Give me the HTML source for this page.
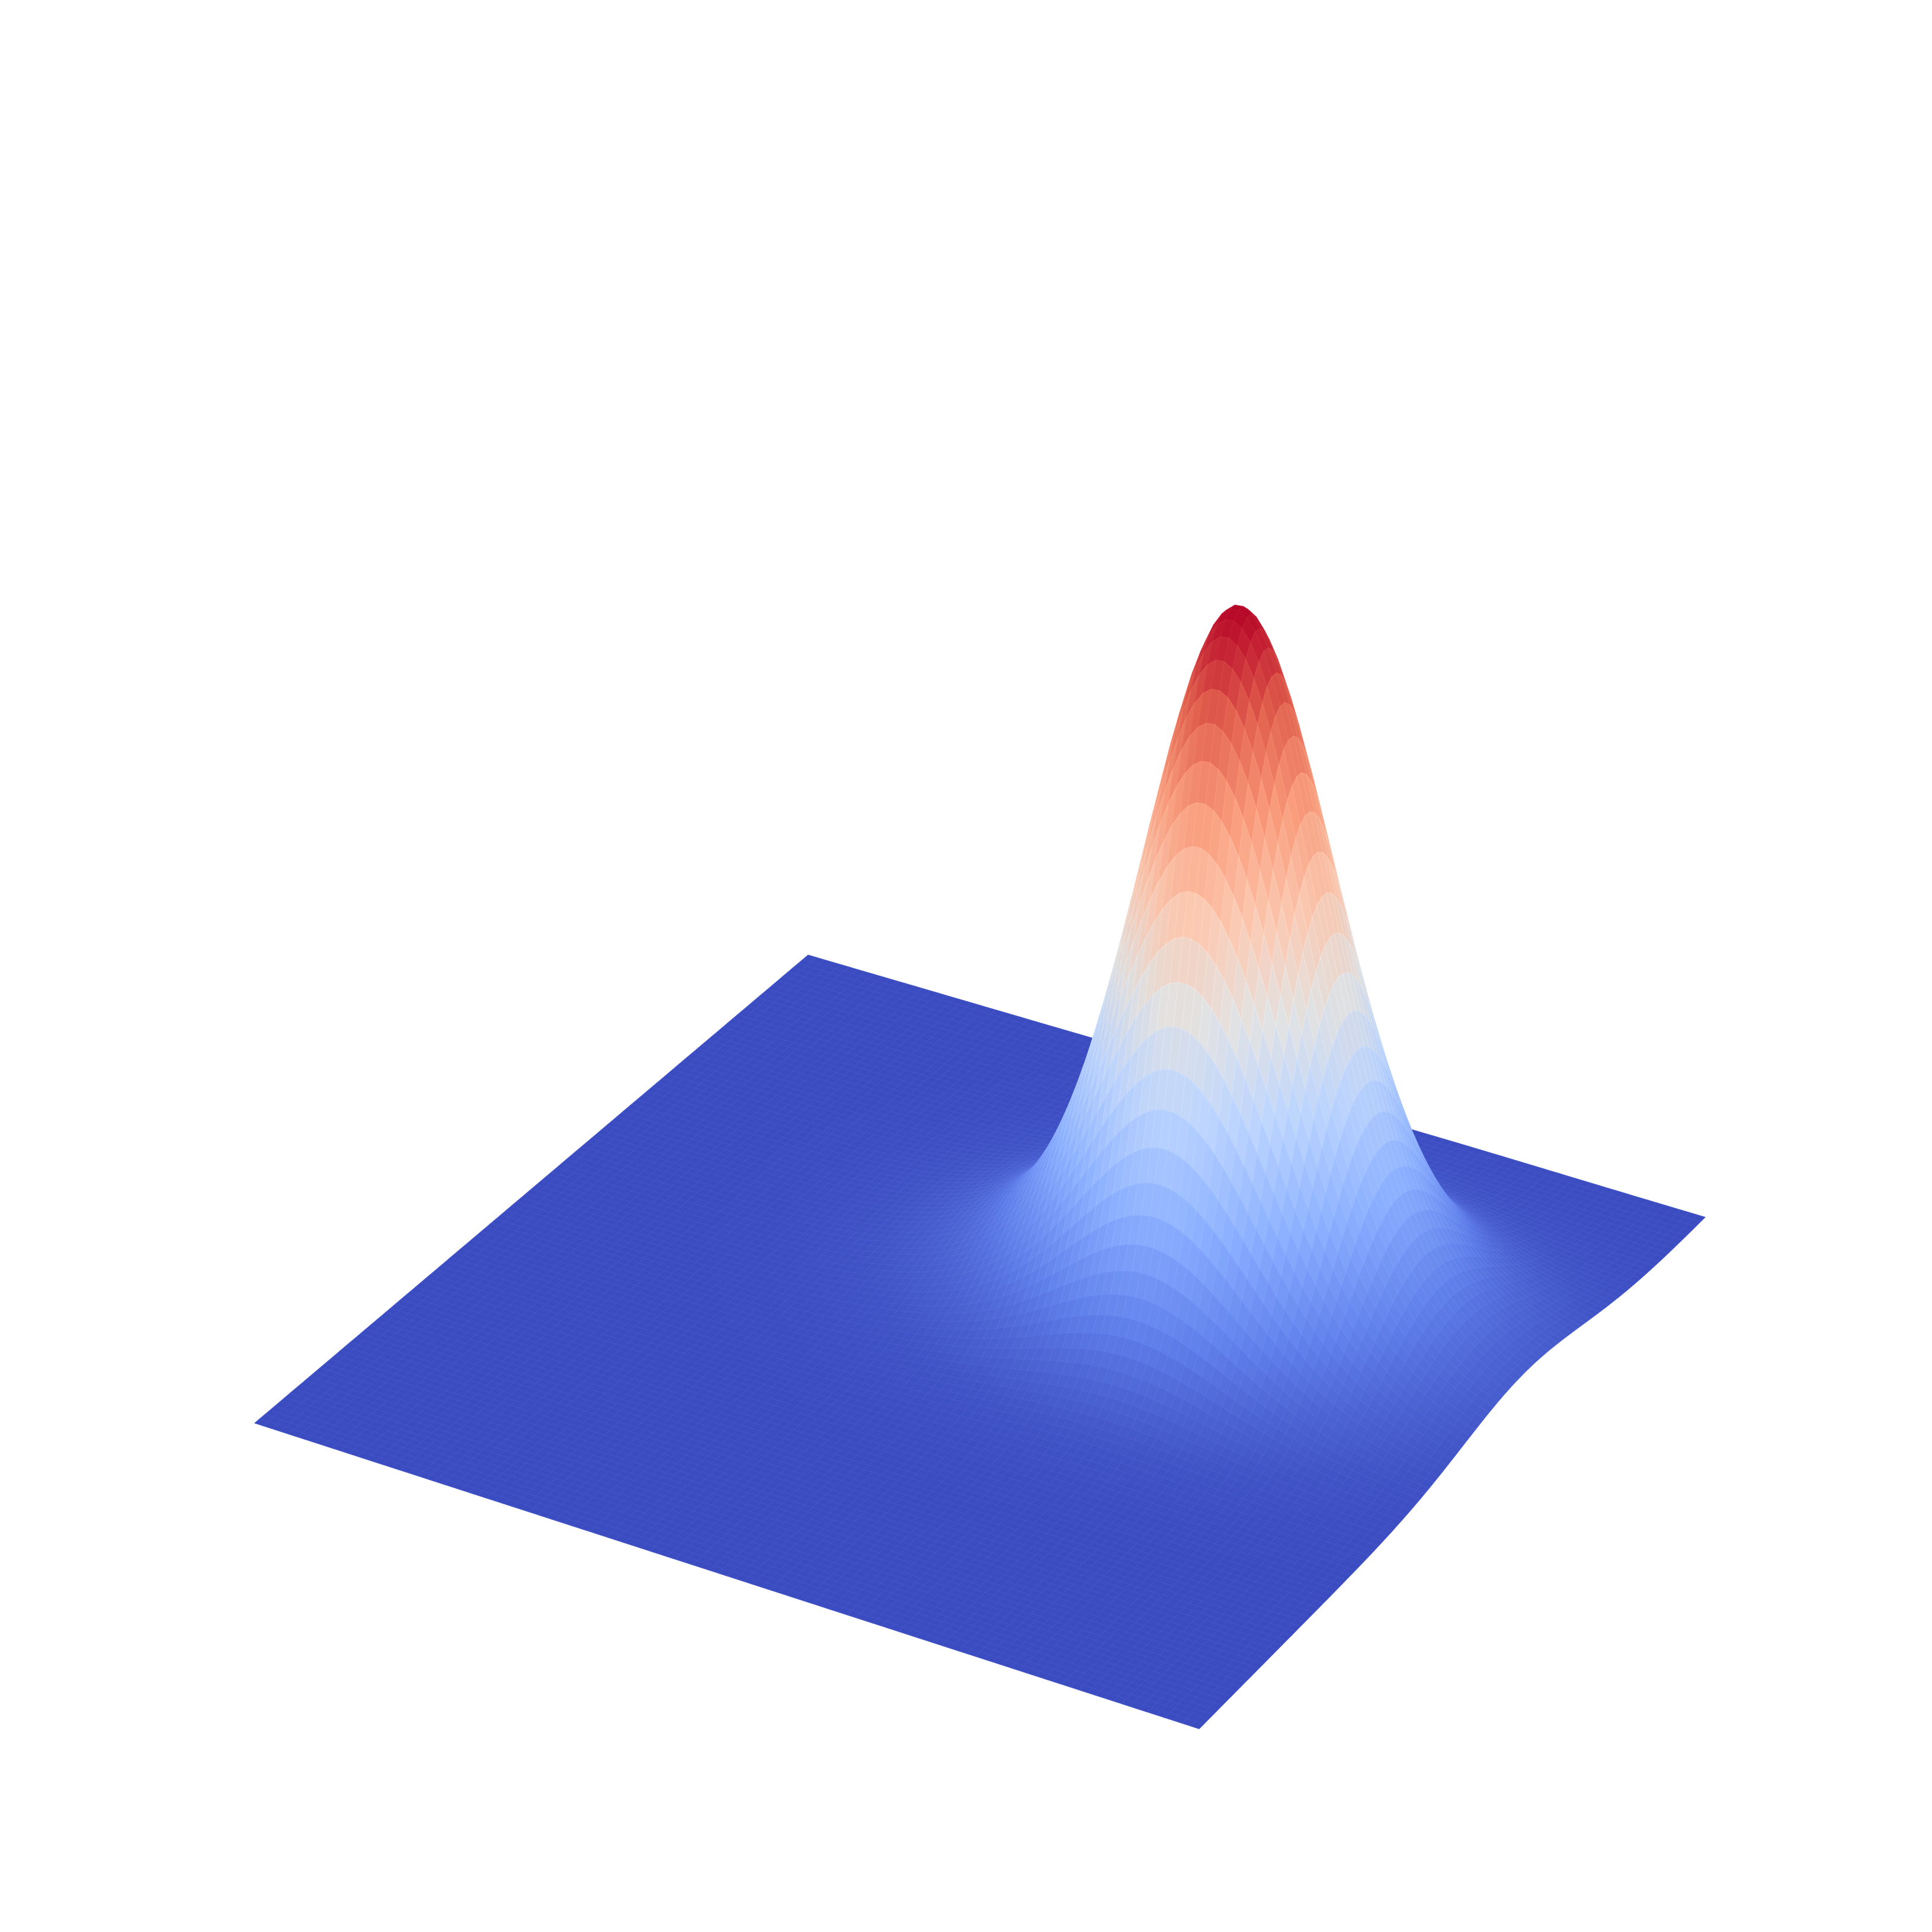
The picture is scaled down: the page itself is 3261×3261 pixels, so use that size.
<!DOCTYPE html>
<html><head><meta charset="utf-8"><style>html,body{margin:0;padding:0;background:#fff}svg{display:block}</style></head>
<body>
<svg id="chart" width="3261" height="3261" viewBox="0 0 3261 3261" xmlns="http://www.w3.org/2000/svg">
<g id="surface"></g>
</svg>
<script>
// Surface data parameters (normalized grid coordinates)
const peakCenter = [0.688, 0.64];
const narrowSigma = [0.087, 0.087];
const broadSigma = [0.16, 0.12];
const componentAmplitude = [0.75, 0.25];
const gridSize = [110];

// projection: corners of base plane
const C00 = [430, 2402], C10 = [2024, 2918], C01 = [1364, 1612], C11 = [2878, 2055];
const Hpx = 1195;
function proj(s, t, z) {
  const x = (1-s)*(1-t)*C00[0] + s*(1-t)*C10[0] + (1-s)*t*C01[0] + s*t*C11[0];
  const y = (1-s)*(1-t)*C00[1] + s*(1-t)*C10[1] + (1-s)*t*C01[1] + s*t*C11[1];
  return [x, y - z*Hpx];
}
function gauss(s, t, sg) {
  const dx = (s - peakCenter[0])/sg[0], dy = (t - peakCenter[1])/sg[1];
  return Math.exp(-(dx*dx+dy*dy)/2);
}
function zval(s, t) {
  return componentAmplitude[0]*gauss(s,t,narrowSigma) + componentAmplitude[1]*gauss(s,t,broadSigma);
}
const zmax = componentAmplitude[0] + componentAmplitude[1];
const cw = [[59,76,192],[98,130,234],[141,176,254],[184,208,249],[221,221,221],[245,196,173],[244,154,123],[222,96,77],[180,4,38]];
function cmap(v) {
  v = Math.max(0, Math.min(1, v)) * 8;
  const i = Math.min(7, Math.floor(v)), f = v - i;
  return cw[i].map((c, k) => c + (cw[i+1][k] - c) * f);
}
const N = gridSize[0];
const g = document.getElementById('surface');
const quads = [];
for (let i = 0; i < N; i++) for (let j = 0; j < N; j++) {
  const s0 = i/N, s1 = (i+1)/N, t0 = j/N, t1 = (j+1)/N;
  const z00 = zval(s0,t0), z10 = zval(s1,t0), z01 = zval(s0,t1), z11 = zval(s1,t1);
  const zc = (z00+z10+z01+z11)/4;
  const ds = (z10+z11-z00-z01)/2*N, dt = (z01+z11-z00-z10)/2*N;
  let sh = 1 + 0.012*(dt*0.3 - ds*0.2);
  sh = Math.max(0.9, Math.min(1.05, sh));
  const c = cmap(zc/zmax).map(v => Math.round(Math.max(0, Math.min(255, v*sh))));
  const e = c.map(v => Math.min(255, v + 8));
  quads.push({depth: s0 + s1 - t0 - t1, pts: [proj(s0,t0,z00), proj(s1,t0,z10), proj(s1,t1,z11), proj(s0,t1,z01)], col: 'rgb('+c.join(',')+')', edge: 'rgb('+e.join(',')+')'});
}
quads.sort((a, b) => a.depth - b.depth);
const frag = document.createDocumentFragment();
for (const q of quads) {
  const p = document.createElementNS('http://www.w3.org/2000/svg', 'polygon');
  p.setAttribute('points', q.pts.map(v => v[0].toFixed(1)+','+v[1].toFixed(1)).join(' '));
  p.setAttribute('fill', q.col);
  p.setAttribute('stroke', q.edge);
  p.setAttribute('stroke-width', '1.1');
  
  
  frag.appendChild(p);
}
g.appendChild(frag);
</script>
</body></html>
